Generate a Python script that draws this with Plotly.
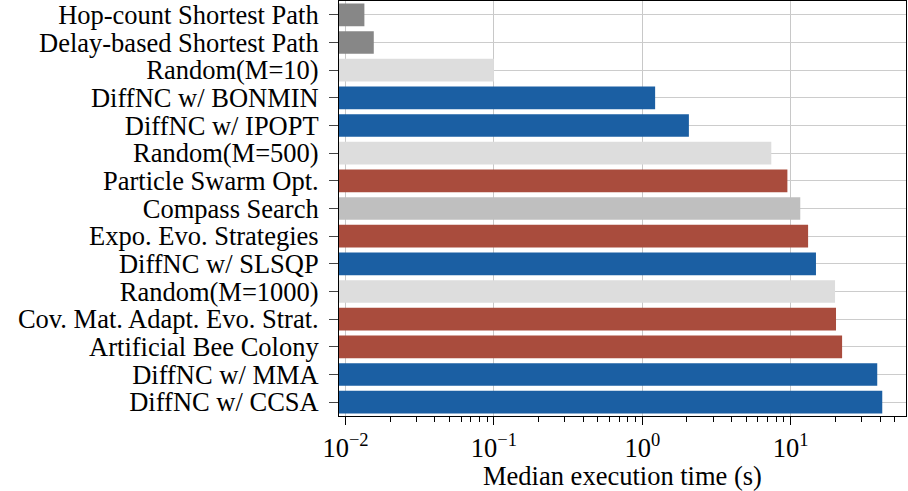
import plotly.graph_objects as go

# Methods, listed top to bottom
methods = [
    "Hop-count Shortest Path",
    "Delay-based Shortest Path",
    "Random(M=10)",
    "DiffNC w/ BONMIN",
    "DiffNC w/ IPOPT",
    "Random(M=500)",
    "Particle Swarm Opt.",
    "Compass Search",
    "Expo. Evo. Strategies",
    "DiffNC w/ SLSQP",
    "Random(M=1000)",
    "Cov. Mat. Adapt. Evo. Strat.",
    "Artificial Bee Colony",
    "DiffNC w/ MMA",
    "DiffNC w/ CCSA",
]

# Median execution time in seconds
median_time = [
    0.0134, 0.0155, 0.100, 1.22, 2.06, 7.4, 9.5, 11.6,
    13.1, 14.8, 19.9, 20.2, 22.2, 38.3, 41.4,
]

# Method family per bar
family = [
    "baseline", "baseline", "random", "diffnc", "diffnc", "random",
    "metaheuristic", "direct", "metaheuristic", "diffnc", "random",
    "metaheuristic", "metaheuristic", "diffnc", "diffnc",
]

family_colors = {
    "baseline": "#878787",
    "random": "#dddddd",
    "diffnc": "#1b5fa3",
    "metaheuristic": "#a94c3d",
    "direct": "#bfbfbf",
}

tick_vals = [0.01, 0.1, 1, 10]
tick_text = ["10<sup>−2</sup>", "10<sup>−1</sup>", "10<sup>0</sup>", "10<sup>1</sup>"]

font_family = "Liberation Serif"
font_size = 26.5

fig = go.Figure(
    go.Bar(
        x=median_time,
        y=methods,
        orientation="h",
        width=0.82,
        marker=dict(color=[family_colors[f] for f in family], line=dict(width=0)),
    )
)

fig.update_layout(
    width=908,
    height=491,
    margin=dict(l=339, r=2, t=1, b=75),
    plot_bgcolor="white",
    paper_bgcolor="white",
    font=dict(family=font_family, size=font_size, color="black"),
    showlegend=False,
)

fig.update_xaxes(
    type="log",
    range=[-2.044, 1.777],
    tickvals=tick_vals,
    ticktext=tick_text,
    ticks="outside",
    ticklen=8,
    tickwidth=1,
    tickcolor="black",
    showgrid=True,
    gridcolor="#c8c8c8",
    gridwidth=1.3,
    showline=True,
    linecolor="black",
    linewidth=1,
    mirror=True,
    zeroline=False,
    minor=dict(dtick="D1", ticks="outside", ticklen=5, tickwidth=1,
               tickcolor="black", showgrid=False),
    title=dict(text="Median execution time (s)", font=dict(size=font_size), standoff=0),
    tickfont=dict(size=font_size),
    ticklabelstandoff=0,
)

fig.update_yaxes(
    autorange="reversed",
    tickmode="array",
    tickvals=methods,
    ticktext=methods,
    ticks="outside",
    ticklen=9,
    tickwidth=1,
    tickcolor="#444444",
    showgrid=True,
    gridcolor="#cccccc",
    gridwidth=1.3,
    showline=True,
    linecolor="black",
    linewidth=1,
    mirror=True,
    tickfont=dict(size=font_size),
    ticklabelstandoff=5,
)

fig.write_html("out.html")
